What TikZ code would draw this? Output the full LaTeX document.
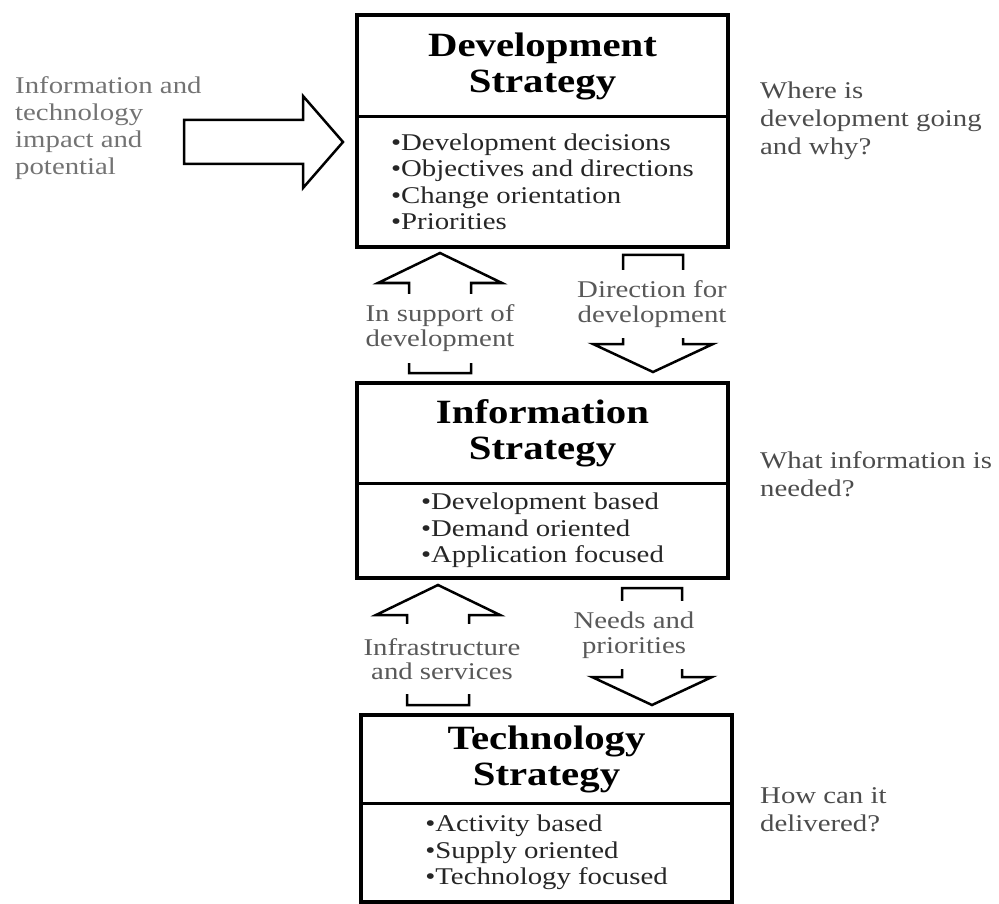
\documentclass[tikz,border=0pt]{standalone}
\usepackage{fontspec}
\setmainfont{Liberation Serif}[FakeStretch=1.2]
\usepackage{tikz}
\usetikzlibrary{positioning}
\tikzset{
    titlebox/.style={draw,line width=3pt,minimum width=371pt,outer sep=0pt,inner sep=0pt,align=center,
        font=\fontsize{34}{36}\selectfont\bfseries},
    listbox/.style={draw,line width=3pt,minimum width=371pt,outer sep=0pt,inner sep=0pt,align=left,
        text=black!85,font=\fontsize{24}{26.5}\selectfont},
    note/.style={align=left,inner sep=0pt,text=black!70,font=\fontsize{24}{28}\selectfont},
    flowlabel/.style={fill=white,align=center,inner xsep=2pt,inner ysep=0pt,text=black!65,
        font=\fontsize{24}{24.5}\selectfont},
    fat/.style={draw,line width=2.5pt,line join=miter},
    frame/.style={line width=4.5pt}
}

\begin{document}
\begin{tikzpicture}[x=1pt,y=-1pt]
            \useasboundingbox (0,0) rectangle (999,904);
            \node[titlebox,minimum height=102pt,anchor=north west] (dev) at (357,15) {Development\\Strategy};
            \node[listbox,minimum height=130pt,below=0pt of dev] (devlist)
                {\textbullet Development decisions\\\textbullet Objectives and directions\\
                 \textbullet Change orientation\\\textbullet Priorities};
            \node[titlebox,minimum height=100pt,anchor=north west] (info) at (357,383) {Information\\Strategy};
            \node[listbox,minimum height=95pt,below=0pt of info] (infolist)
                {\textbullet Development based\\\textbullet Demand oriented\\\textbullet Application focused};
            \node[titlebox,minimum height=88pt,anchor=north west] (tech) at (361,715) {Technology\\Strategy};
            \node[listbox,minimum height=99pt,below=0pt of tech] (techlist)
                {\textbullet Activity based\\\textbullet Supply oriented\\\textbullet Technology focused};
            \draw[frame] (dev.north west) rectangle (devlist.south east);
            \draw[frame] (info.north west) rectangle (infolist.south east);
            \draw[frame] (tech.north west) rectangle (techlist.south east);

            \coordinate (in) at (343,142);
            \coordinate (up1) at (440,253);
            \coordinate (up2) at (438,585);
            \coordinate (down1) at (653,372);
            \coordinate (down2) at (652,705);
            \draw[fat] (in) -- ++(-40,46) -- ++(0,-24) -- ++(-119,0) -- ++(0,-44) -- ++(119,0) -- ++(0,-24) -- cycle;
            \foreach \a in {up1,up2}
                \draw[fat] (\a) -- ++(62,30) -- ++(-31,0) -- ++(0,90) -- ++(-62,0) -- ++(0,-90) -- ++(-31,0) -- cycle;
            \foreach \a in {down1,down2}
                \draw[fat] (\a) -- ++(60,-28) -- ++(-30,0) -- ++(0,-89) -- ++(-60,0) -- ++(0,89) -- ++(-30,0) -- cycle;

            \node[flowlabel,minimum height=69pt] (support) at (440,328) {In support of\\development};
            \node[flowlabel,minimum height=68pt] (direction) at (652,304) {Direction for\\development};
            \node[flowlabel,minimum height=70pt] (infra) at (442,659) {Infrastructure\\and services};
            \node[flowlabel,minimum height=68pt] (needs) at (634,635) {Needs and\\priorities};

            \node[note,anchor=west,text=black!55,font=\fontsize{24}{27}\selectfont] (impact) at (15,128)
                {Information and\\technology\\impact and\\potential};
            \node[note,anchor=west] (where) at (760,121) {Where is\\development going\\and why?};
            \node[note,anchor=west] (what) at (760,474) {What information is\\needed?};
            \node[note,anchor=west] (how) at (760,810) {How can it\\delivered?};
        \end{tikzpicture}
\end{document}
